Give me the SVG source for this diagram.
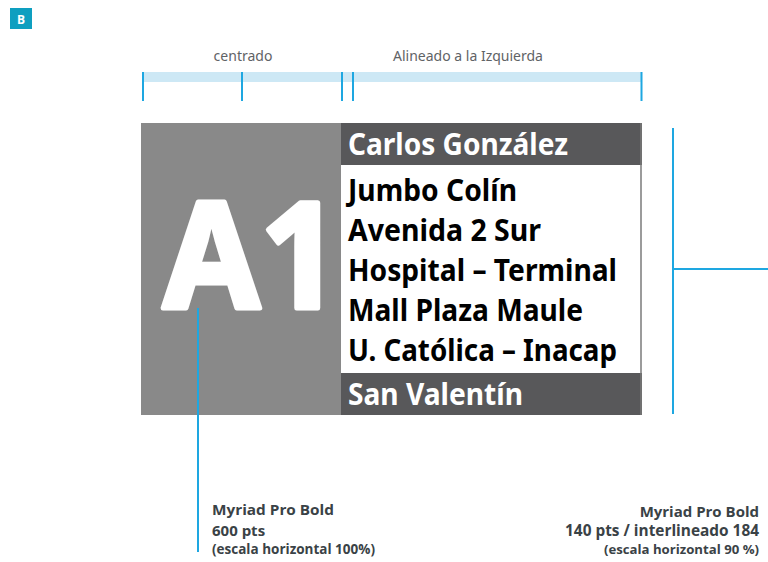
<svg xmlns="http://www.w3.org/2000/svg" width="768" height="562" viewBox="0 0 768 562">
<style>
.lbl{font-family:"Noto Sans","Open Sans",sans-serif;font-size:14px;fill:#5f6366}
.tick{stroke:#1ea7e1;stroke-width:2;fill:none}
.route{font-family:"Noto Sans","Open Sans",sans-serif;font-weight:bold;font-size:30px}
.w{fill:#ffffff}
.k{fill:#000000}
.note{font-family:"Open Sans","Noto Sans",sans-serif;font-weight:bold;fill:#3a4246}
</style>
<rect width="768" height="562" fill="#ffffff"/>
<g id="badge">
<rect x="10" y="8" width="22" height="21" fill="#0e9fc0"/>
<text x="21" y="23.5" text-anchor="middle" font-family="Open Sans, sans-serif" font-weight="bold" font-size="12" fill="#ffffff">B</text>
</g>
<g id="ruler">
<rect x="142" y="72" width="500" height="10" fill="#cde8f5"/>
<text class="lbl" x="243" y="61" text-anchor="middle">centrado</text>
<text class="lbl" x="468" y="61" text-anchor="middle">Alineado a la Izquierda</text>
</g>
<g id="sign">
<rect x="141" y="123" width="200" height="292" fill="#898989"/>
<rect x="341" y="123" width="300" height="292" fill="#ffffff"/>
<rect x="341" y="123" width="301" height="42" fill="#58585a"/>
<rect x="341" y="373" width="301" height="42" fill="#58585a"/>
<line x1="641" y1="123" x2="641" y2="415" stroke="#7a7a7a" stroke-width="1.5"/>
<text x="163" y="308" font-family="Noto Sans, Open Sans, sans-serif" font-weight="bold" font-size="147" fill="#ffffff" stroke="#ffffff" stroke-width="5" stroke-linejoin="round" textLength="177" lengthAdjust="spacingAndGlyphs">A1</text>
<text class="route w" x="348" y="155" textLength="220" lengthAdjust="spacingAndGlyphs">Carlos González</text>
<text class="route k" x="348" y="201" textLength="169" lengthAdjust="spacingAndGlyphs">Jumbo Colín</text>
<text class="route k" x="348" y="241" textLength="193" lengthAdjust="spacingAndGlyphs">Avenida 2 Sur</text>
<text class="route k" x="348" y="281" textLength="269" lengthAdjust="spacingAndGlyphs">Hospital – Terminal</text>
<text class="route k" x="348" y="321" textLength="235" lengthAdjust="spacingAndGlyphs">Mall Plaza Maule</text>
<text class="route k" x="348" y="361" textLength="269" lengthAdjust="spacingAndGlyphs">U. Católica – Inacap</text>
<text class="route w" x="348" y="405" textLength="175" lengthAdjust="spacingAndGlyphs">San Valentín</text>
</g>
<g id="connectors">
<path class="tick" d="M143 72V101M242 72V101M342 72V101M353 72V101M641.5 72V101"/>
<path class="tick" d="M198 308V552"/>
<path class="tick" d="M673 128V414M673 269H768"/>
</g>
<g id="note-left">
<text class="note" x="212" y="515" font-size="15" textLength="122" lengthAdjust="spacingAndGlyphs">Myriad Pro Bold</text>
<text class="note" x="212" y="536" font-size="15">600 pts</text>
<text class="note" x="212" y="554" font-size="13.4" textLength="163" lengthAdjust="spacingAndGlyphs">(escala horizontal 100%)</text>
</g>
<g id="note-right">
<text class="note" x="759" y="517" font-size="15" text-anchor="end">Myriad Pro Bold</text>
<text class="note" x="759" y="536" font-size="15.4" text-anchor="end">140 pts / interlineado 184</text>
<text class="note" x="759" y="554" font-size="13.2" text-anchor="end">(escala horizontal 90 %)</text>
</g>
</svg>
